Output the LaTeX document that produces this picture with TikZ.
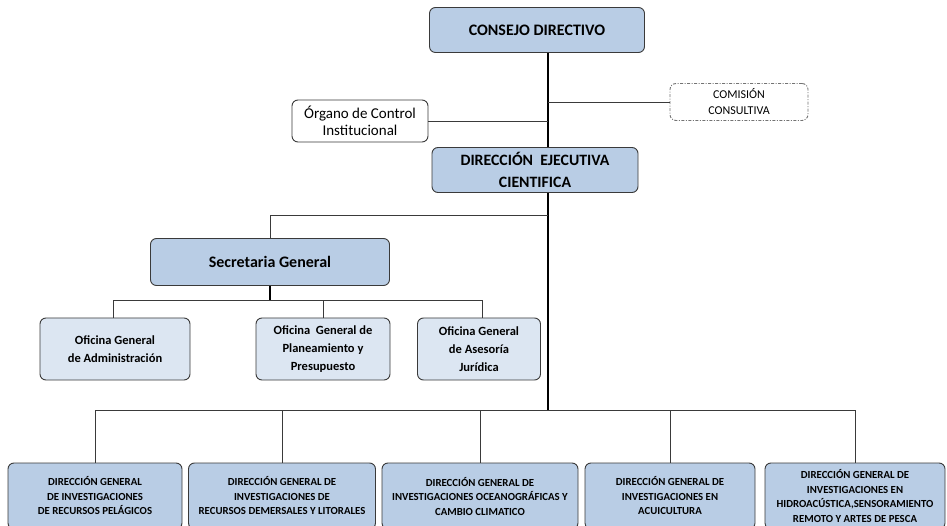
\documentclass[tikz,border=0pt]{standalone}
\usepackage{fontspec}
\setmainfont{Carlito}
\usetikzlibrary{positioning}
\definecolor{boxblue}{HTML}{B9CDE5}
\definecolor{boxpale}{HTML}{DCE6F2}
\definecolor{linegrey}{HTML}{3A3A3A}

\begin{document}
\begin{tikzpicture}[x=1pt, y=-1pt]
\useasboundingbox (0,0) rectangle (947,526);

\begin{scope}[every node/.style={shape=rectangle, rounded corners=6pt,
    draw=linegrey, line width=0.9pt, align=center, inner sep=2pt}]
    \node[fill=boxblue, minimum width=215pt, minimum height=45pt,
      font=\bfseries\fontsize{16}{18}\selectfont] (cd) at (537,30) {CONSEJO DIRECTIVO};
    \node[fill=white, minimum width=136pt, minimum height=42pt,
      font=\fontsize{15}{17}\selectfont] (oci) at (360,121) {Órgano de Control\\Institucional};
    \node[fill=white, draw=black!55, dash pattern=on 3pt off 1.5pt on 1pt off 1.5pt,
      minimum width=138pt, minimum height=37pt,
      font=\fontsize{12}{16}\selectfont] (cc) at (739,102) {COMISIÓN\\CONSULTIVA};
    \node[fill=boxblue, minimum width=206pt, minimum height=45pt,
      font=\bfseries\fontsize{15.8}{22}\selectfont] (dec) at (535,170) {DIRECCIÓN~~EJECUTIVA\\CIENTIFICA};
    \node[fill=boxblue, minimum width=239pt, minimum height=47pt,
      font=\bfseries\fontsize{16}{18}\selectfont] (sg) at (270,262) {Secretaria General};
\end{scope}

\begin{scope}[every node/.style={shape=rectangle, rounded corners=6pt,
    draw=linegrey, line width=0.9pt, align=center, inner sep=2pt,
    fill=boxpale, minimum height=62pt, font=\bfseries\fontsize{12.5}{18}\selectfont}]
    \node[minimum width=150pt] (oga) at (115,349) {Oficina General\\de Administración};
    \node[minimum width=134pt] (ogp) at (323,349) {Oficina~ General de\\Planeamiento y\\Presupuesto};
    \node[minimum width=123pt] (oaj) at (479,349) {Oficina General\\de Asesoría\\Jurídica};
\end{scope}

\begin{scope}[every node/.style={shape=rectangle, rounded corners=6pt,
    draw=linegrey, line width=0.9pt, align=center, inner sep=2pt,
    fill=boxblue, minimum height=66pt, font=\bfseries\fontsize{10.8}{14.5}\selectfont}]
    \node[minimum width=174pt] (dgp) at (95,496) {DIRECCIÓN GENERAL\\DE INVESTIGACIONES\\DE RECURSOS PELÁGICOS};
    \node[minimum width=187pt] (dgd) at (282,496) {DIRECCIÓN GENERAL DE\\INVESTIGACIONES DE\\RECURSOS DEMERSALES Y LITORALES};
    \node[minimum width=196pt] (dgo) at (480,496) {DIRECCIÓN GENERAL DE\\INVESTIGACIONES OCEANOGRÁFICAS Y\\CAMBIO CLIMATICO};
    \node[minimum width=170pt] (dga) at (670,496) {DIRECCIÓN GENERAL DE\\INVESTIGACIONES EN\\ACUICULTURA};
    \node[minimum width=180pt] (dgh) at (855,496) {DIRECCIÓN GENERAL DE\\INVESTIGACIONES EN\\HIDROACÚSTICA,SENSORAMIENTO\\REMOTO Y ARTES DE PESCA};
\end{scope}

% junctions
\coordinate (spine) at (548,0);
\coordinate (sgj) at (548,215);
\coordinate (ofj) at (270,300);
\coordinate (bus) at (548,410);

\begin{scope}[line/.style={draw=linegrey, line width=0.9pt},
    spinel/.style={draw=black, line width=1.4pt}]
    \path[spinel] (cd.south -| spine) -- (dec.north -| spine);
    \path[spinel] (dec.south -| spine) -- (bus);
    \path[line] (cc.west) -- (cc.west -| spine);
    \path[line] (oci.east) -- (oci.east -| spine);
    \path[line] (sg.north) |- (sgj);
    \path[spinel] (sg.south) -- (ofj);
    \path[line] ([xshift=-2pt]oga.north) |- (ofj);
    \path[line] (ogp.north) |- (ofj);
    \path[line] ([xshift=3pt]oaj.north) |- (ofj);
    \path[line] (dgp.north) |- (bus);
    \path[line] (dgd.north) |- (bus);
    \path[line] (dgo.north) |- (bus);
    \path[line] (dga.north) |- (bus);
    \path[line] (dgh.north) |- (bus);
\end{scope}
\end{tikzpicture}
\end{document}
